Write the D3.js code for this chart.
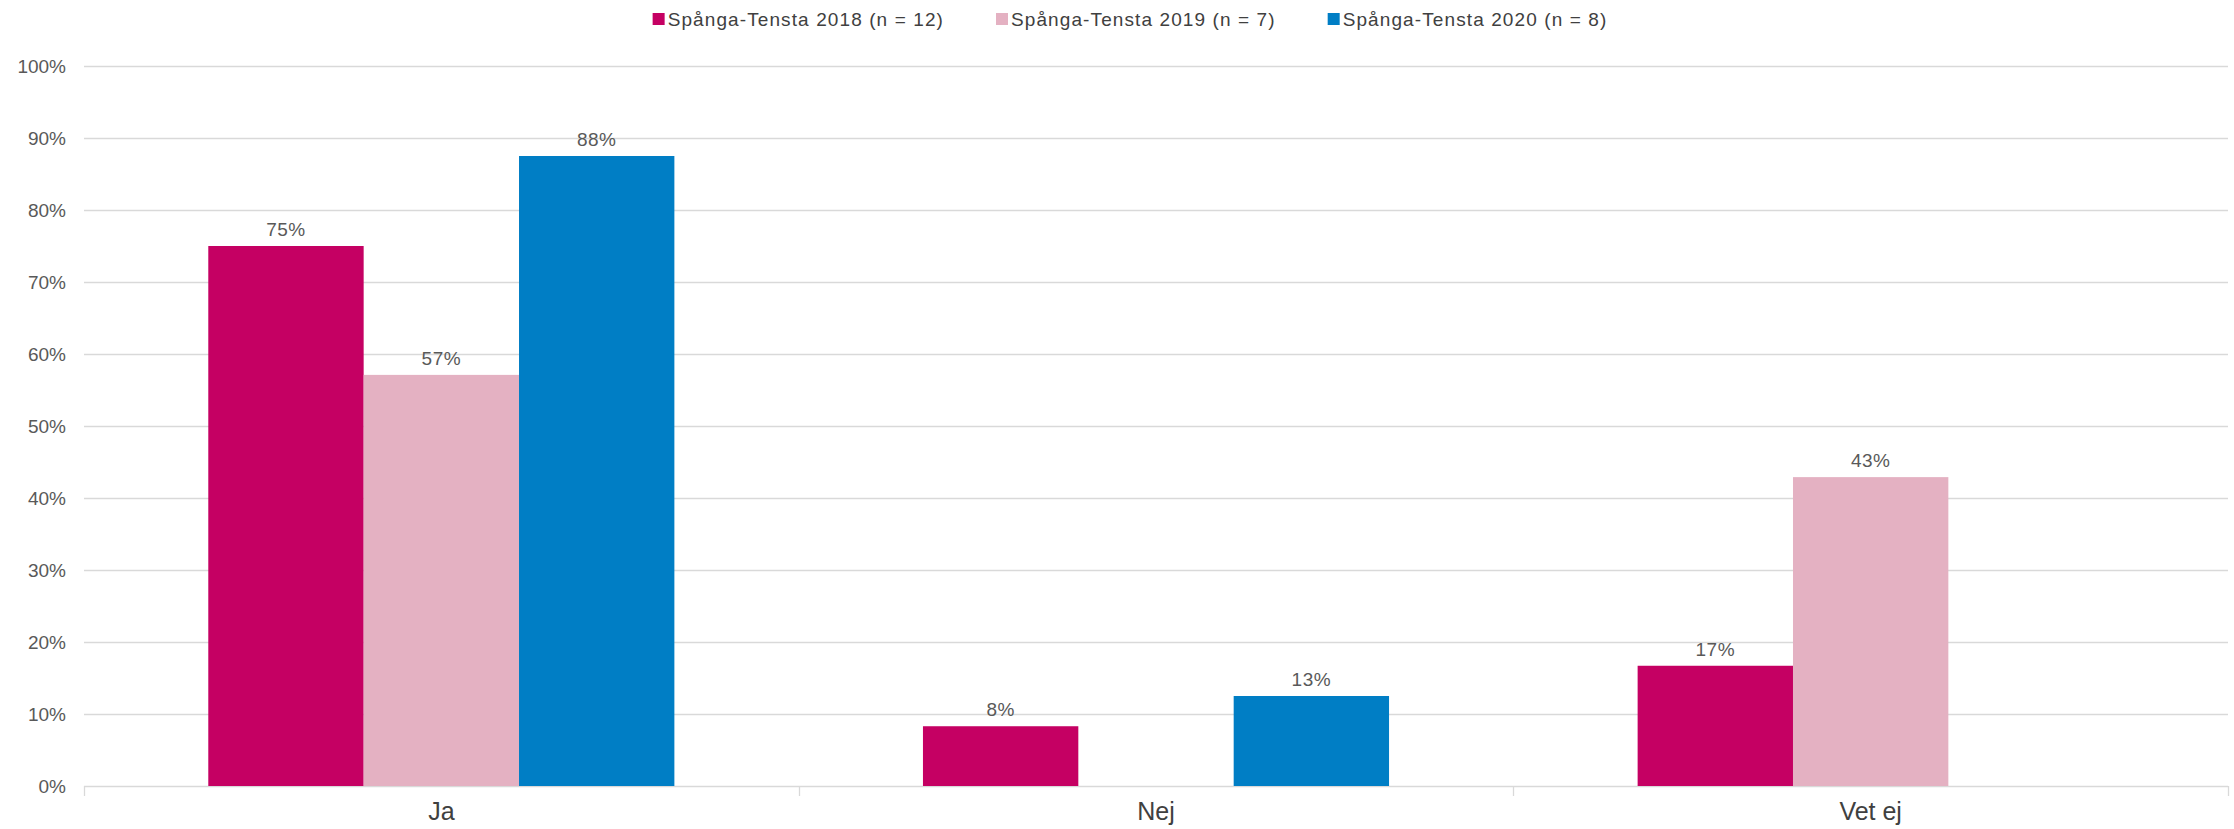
<!DOCTYPE html>
<html>
<head>
<meta charset="utf-8">
<script src="https://cdn.jsdelivr.net/npm/d3@7/dist/d3.min.js"></script>
<style>
body { margin: 0; background: #fff; }
svg { display: block; font-family: "Liberation Sans", Arial, sans-serif; }
</style>
</head>
<body>
<svg class="chart"></svg>
<script>
var categories = ["Ja", "Nej", "Vet ej"];
var seriesNames = ["Spånga-Tensta 2018 (n = 12)", "Spånga-Tensta 2019 (n = 7)", "Spånga-Tensta 2020 (n = 8)"];
var colors = ["#C50063", "#E4B1C2", "#007EC5"];
var v2018 = [75, 8.3, 16.7];
var v2019 = [57.1, 0, 42.9];
var v2020 = [87.5, 12.5, 0];
var yTicks = [0, 10, 20, 30, 40, 50, 60, 70, 80, 90, 100];

var width = 2234;
var height = 829;
var margin = {top: 66, right: 6, bottom: 43, left: 84};

var chart = d3.select(".chart")
    .attr("width", width)
    .attr("height", height);

var x0 = d3.scaleBand()
    .domain(categories)
    .range([margin.left, width - margin.right]);

// 3 bars + gap width 160%
var x1 = d3.scaleBand()
    .domain(d3.range(seriesNames.length))
    .range([0, x0.bandwidth() * 3 / 4.6]);
var groupOffset = (x0.bandwidth() - x1.range()[1]) / 2;

var y = d3.scaleLinear()
    .domain([0, 100])
    .range([height - margin.bottom, margin.top]);

// gridlines
chart.append("g")
    .selectAll("line")
    .data(yTicks)
    .enter()
    .append("line")
    .attr("x1", margin.left)
    .attr("x2", width - margin.right)
    .attr("y1", function(d) { return Math.round(y(d)) + 0.5; })
    .attr("y2", function(d) { return Math.round(y(d)) + 0.5; })
    .attr("stroke", "#D9D9D9")
    .attr("stroke-width", 1.3);

// y labels
chart.append("g")
    .selectAll("text")
    .data(yTicks)
    .enter()
    .append("text")
    .attr("x", margin.left - 18)
    .attr("y", function(d) { return y(d) + 7; })
    .attr("text-anchor", "end")
    .attr("font-size", "19px")
    .attr("fill", "#595959")
    .text(function(d) { return d + "%"; });

// category ticks
var bounds = categories.map(function(c) { return x0(c); }).concat([x0(categories[categories.length - 1]) + x0.bandwidth()]);
chart.append("g")
    .selectAll("line")
    .data(bounds)
    .enter()
    .append("line")
    .attr("x1", function(d) { return Math.round(d) + 0.5; })
    .attr("x2", function(d) { return Math.round(d) + 0.5; })
    .attr("y1", y(0))
    .attr("y2", y(0) + 10)
    .attr("stroke", "#D9D9D9")
    .attr("stroke-width", 1.3);

// bars
var allValues = [v2018, v2019, v2020];
var rows = [];
categories.forEach(function(c, i) {
    allValues.forEach(function(vals, s) {
        rows.push({cat: c, s: s, v: vals[i]});
    });
});

var bars = rows.filter(function(d) { return d.v > 0; });

chart.append("g")
    .selectAll("rect")
    .data(bars)
    .enter()
    .append("rect")
    .attr("x", function(d) { return x0(d.cat) + groupOffset + x1(d.s); })
    .attr("width", x1.bandwidth())
    .attr("y", function(d) { return y(d.v); })
    .attr("height", function(d) { return y(0) - y(d.v); })
    .attr("fill", function(d) { return colors[d.s]; });

// data labels
chart.append("g")
    .selectAll("text")
    .data(bars)
    .enter()
    .append("text")
    .attr("x", function(d) { return x0(d.cat) + groupOffset + x1(d.s) + x1.bandwidth() / 2; })
    .attr("y", function(d) { return y(d.v) - 10; })
    .attr("text-anchor", "middle")
    .attr("font-size", "19px")
    .attr("letter-spacing", "0.5px")
    .attr("fill", "#595959")
    .text(function(d) { return Math.round(d.v) + "%"; });

// category labels
chart.append("g")
    .selectAll("text")
    .data(categories)
    .enter()
    .append("text")
    .attr("x", function(d) { return x0(d) + x0.bandwidth() / 2; })
    .attr("y", 820)
    .attr("text-anchor", "middle")
    .attr("font-size", "25px")
    .attr("fill", "#404040")
    .text(function(d) { return d; });

// legend
var legend = chart.append("g");
var items = legend.selectAll("g")
    .data(seriesNames)
    .enter()
    .append("g");

items.append("rect")
    .attr("y", 13)
    .attr("width", 12)
    .attr("height", 12)
    .attr("fill", function(d, i) { return colors[i]; });

items.append("text")
    .attr("x", 15)
    .attr("y", 26)
    .attr("font-size", "19px")
    .attr("letter-spacing", "1.1px")
    .attr("fill", "#404040")
    .text(function(d) { return d; });

var pos = 0;
var offsets = [];
items.each(function() {
    offsets.push(pos);
    pos += this.getBBox().width + 52;
});
var legendWidth = pos - 52;
var legendLeft = 1130 - legendWidth / 2;
items.attr("transform", function(d, i) { return "translate(" + (legendLeft + offsets[i]) + ",0)"; });
</script>
</body>
</html>
